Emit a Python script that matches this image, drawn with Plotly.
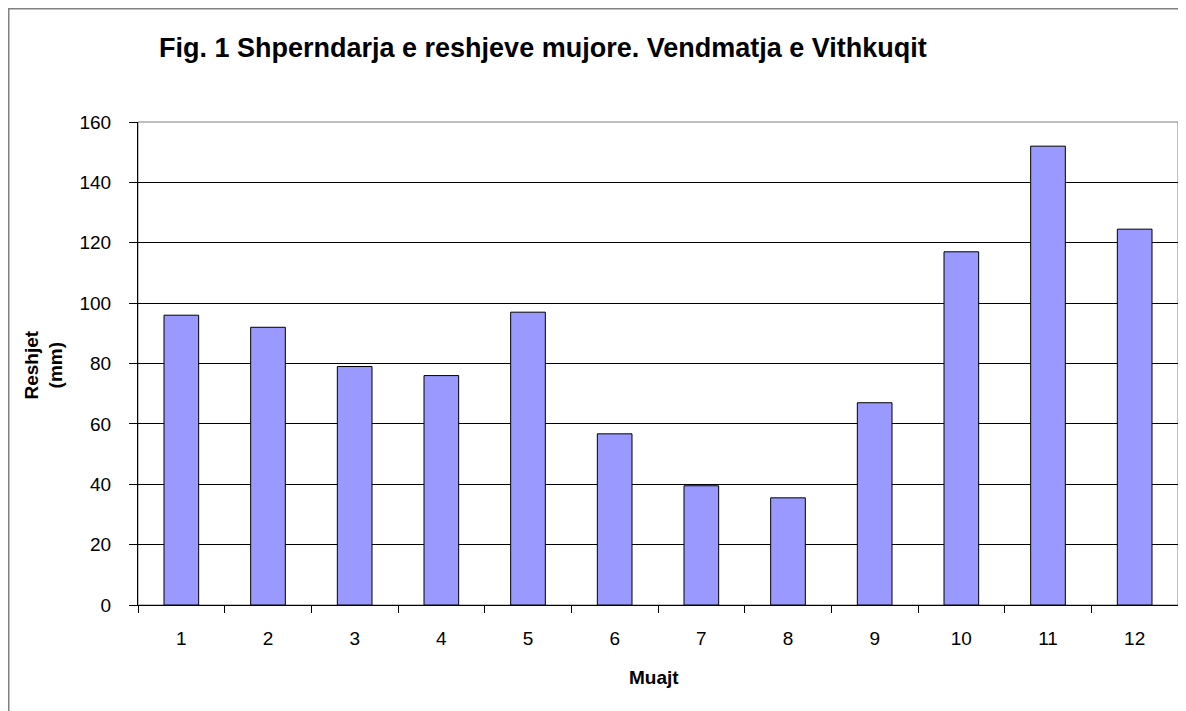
import plotly.graph_objects as go

months = ["1", "2", "3", "4", "5", "6", "7", "8", "9", "10", "11", "12"]
rainfall = [96, 92, 79, 76, 97, 56.7, 39.5, 35.5, 67, 117, 152, 124.5]
y_ticks = [0, 20, 40, 60, 80, 100, 120, 140, 160]

title_text = "Fig. 1 Shperndarja e reshjeve mujore. Vendmatja e Vithkuqit"
x_title = "Muajt"
y_title = "Reshjet<br>(mm)"

W, H = 1186, 711
ml, mr, mt, mb = 130, 16, 114, 114
PW, PH = W - ml - mr, H - mt - mb


def px(x):
    return (x - ml) / PW


def py(y):
    return (H - mb - y) / PH


font = "Liberation Sans, Arial, sans-serif"

fig = go.Figure()
fig.add_trace(go.Bar(
    x=months, y=rainfall,
    marker=dict(color="#9999FF", line=dict(color="#000000", width=1)),
    width=0.4,
))

fig.update_layout(
    width=W, height=H,
    margin=dict(l=ml, r=mr, t=mt, b=mb),
    paper_bgcolor="white", plot_bgcolor="white",
    showlegend=False,
    font=dict(family=font, size=19, color="#000000"),
    xaxis=dict(
        type="category", tickson="boundaries",
        ticks="outside", ticklen=7, tickcolor="#000000", tickwidth=1,
        showline=True, linecolor="#000000", linewidth=1,
        showgrid=False, tickfont=dict(size=19),
        ticklabelstandoff=16,
    ),
    yaxis=dict(
        range=[0, 160], tickvals=y_ticks,
        ticks="outside", ticklen=8, tickcolor="#000000", tickwidth=1,
        showline=True, linecolor="#000000", linewidth=1,
        showgrid=True, gridcolor="#000000", gridwidth=1,
        zeroline=False, tickfont=dict(size=19),
        ticklabelstandoff=14,
    ),
    annotations=[
        dict(text="<b>" + title_text + "</b>", xref="paper", yref="paper",
             x=px(535), y=py(40), xanchor="center", yanchor="middle",
             showarrow=False, font=dict(size=27, family=font, color="#000000")),
        dict(text="<b>" + x_title + "</b>", xref="paper", yref="paper",
             x=px(646), y=py(669), xanchor="center", yanchor="middle",
             showarrow=False, font=dict(size=19, family=font, color="#000000")),
        dict(text="<b>" + y_title + "</b>", xref="paper", yref="paper",
             x=px(35.5), y=py(357), xanchor="center", yanchor="middle",
             textangle=-90, showarrow=False,
             font=dict(size=19, family=font, color="#000000")),
    ],
    shapes=[
        dict(type="rect", xref="paper", yref="paper", x0=0, x1=1, y0=0, y1=1,
             line=dict(color="#808080", width=1), layer="below"),
        dict(type="rect", xref="paper", yref="paper",
             x0=px(0), x1=px(W + 20), y0=py(H + 20), y1=py(0),
             line=dict(color="#808080", width=3), layer="above"),
    ],
)

fig.write_html("out.html")
